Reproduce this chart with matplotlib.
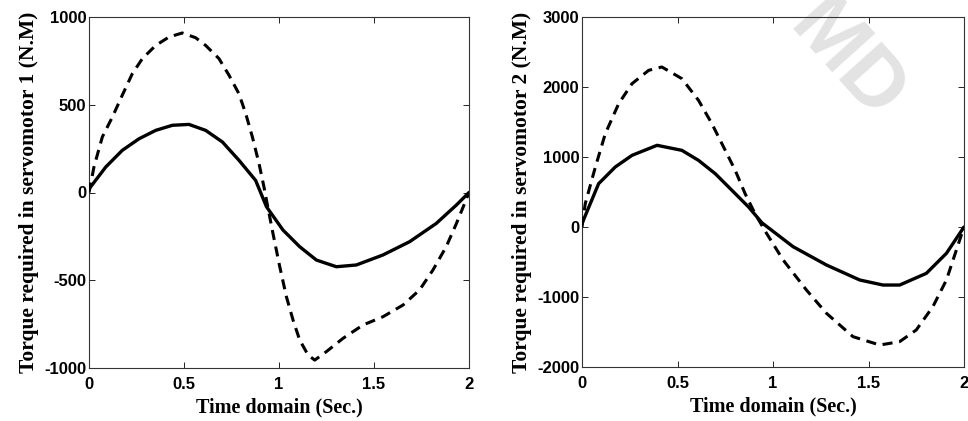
import matplotlib
matplotlib.use("Agg")
import matplotlib.pyplot as plt
from matplotlib.ticker import FixedLocator, FixedFormatter

plt.rcParams["axes.unicode_minus"] = False

# ---- data ----
t1_solid = [0.0, 0.088, 0.175, 0.263, 0.351, 0.439, 0.526, 0.614, 0.702, 0.789, 0.877, 0.934,
            1.021, 1.109, 1.197, 1.302, 1.407, 1.547, 1.688, 1.828, 1.934, 2.0]
v1_solid = [20, 145, 240, 306, 354, 383, 388, 354, 288, 184, 69, -81,
            -214, -309, -385, -423, -413, -356, -280, -176, -71, 0]

t1_dash = [0.0, 0.026, 0.07, 0.123, 0.175, 0.228, 0.281, 0.351, 0.421, 0.491, 0.561, 0.614,
           0.684, 0.737, 0.789, 0.825, 0.86, 0.895, 0.921, 0.934, 0.968, 1.004, 1.039, 1.074,
           1.109, 1.153, 1.188, 1.249, 1.337, 1.442, 1.547, 1.653, 1.74, 1.81, 1.88, 1.934,
           1.977, 2.0]
v1_dash = [0, 145, 316, 430, 554, 677, 763, 838, 886, 909, 882, 838,
           763, 668, 563, 449, 316, 164, 31, -43, -232, -423, -594, -727,
           -841, -926, -955, -907, -831, -755, -708, -641, -555, -442, -309, -176,
           -62, 0]

t2_solid = [0.0, 0.087, 0.174, 0.262, 0.393, 0.523, 0.61, 0.698, 0.785, 0.872, 0.942,
            1.105, 1.28, 1.454, 1.576, 1.663, 1.803, 1.908, 2.0]
v2_solid = [50, 619, 857, 1024, 1167, 1095, 952, 761, 524, 286, 60,
            -281, -543, -757, -829, -829, -662, -376, 0]

t2_dash = [0.0, 0.017, 0.07, 0.122, 0.192, 0.262, 0.349, 0.418, 0.523, 0.61, 0.68, 0.75,
           0.802, 0.854, 0.906, 0.966, 1.053, 1.175, 1.28, 1.419, 1.559, 1.663, 1.75, 1.837,
           1.908, 1.96, 2.0]
v2_dash = [0, 333, 857, 1333, 1762, 2048, 2238, 2286, 2119, 1810, 1476, 1095,
           810, 476, 190, -90, -471, -900, -1233, -1567, -1686, -1638, -1471, -1138,
           -757, -329, 0]

x_ticks = [0, 0.5, 1, 1.5, 2]
x_tick_labels = ["0", "0.5", "1", "1.5", "2"]
y1_ticks = [-1000, -500, 0, 500, 1000]
y2_ticks = [-2000, -1000, 0, 1000, 2000, 3000]
xlabel = "Time domain (Sec.)"
ylabel1 = "Torque required in servomotor 1 (N.M)"
ylabel2 = "Torque required in servomotor 2 (N.M)"
watermark = "MD"

fig = plt.figure(figsize=(9.68, 4.21), dpi=100)
W, H = 968, 421
ax1 = fig.add_axes([89 / W, 1 - 368 / H, (469 - 89) / W, (368 - 17) / H])
ax2 = fig.add_axes([582 / W, 1 - 367 / H, (964 - 582) / W, (367 - 17) / H])

for ax, ts, vs, td, vd, yt, yl in [
    (ax1, t1_solid, v1_solid, t1_dash, v1_dash, y1_ticks, ylabel1),
    (ax2, t2_solid, v2_solid, t2_dash, v2_dash, y2_ticks, ylabel2),
]:
    ax.plot(ts, vs, color="black", lw=2.4, solid_joinstyle="round", solid_capstyle="round", zorder=3)
    ax.plot(td, vd, color="black", lw=2.2, linestyle=(0, (3.3, 2.2)), zorder=3)
    ax.set_xlim(0, 2)
    ax.set_ylim(yt[0], yt[-1])
    ax.xaxis.set_major_locator(FixedLocator(x_ticks))
    ax.xaxis.set_major_formatter(FixedFormatter(x_tick_labels))
    ax.yaxis.set_major_locator(FixedLocator(yt))
    ax.tick_params(direction="in", top=True, right=True, length=4, width=0.6)
    ax.tick_params(axis="x", pad=6.5)
    ax.tick_params(axis="y", pad=2)
    for lab in ax.get_xticklabels() + ax.get_yticklabels():
        lab.set_fontfamily("Liberation Sans")
        lab.set_fontweight("bold")
        lab.set_fontsize(12)
    for sp in ax.spines.values():
        sp.set_linewidth(0.8)
        sp.set_color("#333333")
    ax.set_xlabel(xlabel, labelpad=4, family="Liberation Serif", weight="bold", size=14.5)
    ax.set_ylabel(yl, labelpad=4, family="Liberation Serif", weight="bold", size=15.5)

ax2.text(846 / W, 1 - 62 / H, watermark, transform=fig.transFigure, rotation=-48,
         color="#e3e3e3", fontsize=60, family="Liberation Sans", weight="bold",
         ha="center", va="center", rotation_mode="anchor", zorder=1, clip_on=False)

fig.savefig("out.png", dpi=100)
